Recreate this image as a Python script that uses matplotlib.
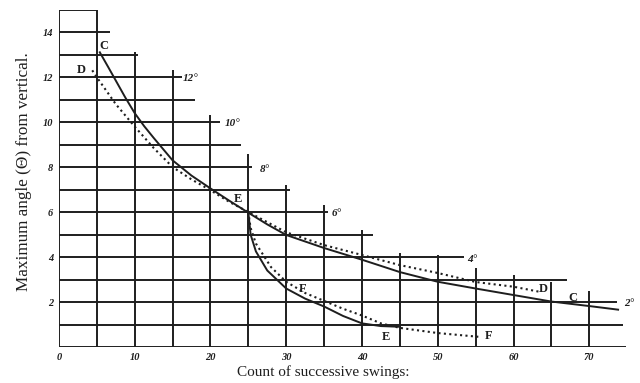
import numpy as np
import matplotlib
matplotlib.use("Agg")
import matplotlib.pyplot as plt

# stair-shaped ruling of the old plate
h_levels = list(range(16))
h_ends = [74.8, 74.5, 73.6, 67.0, 53.5, 41.5, 35.5, 30.5, 25.5, 24.0, 21.3, 18.0, 16.3, 10.5, 6.7, 5.0]
v_pos = list(range(0, 75, 5))
v_tops = [15, 15, 13.1, 12.3, 10.3, 8.6, 7.2, 6.3, 5.2, 4.2, 4.1, 3.5, 3.2, 2.9, 2.5]

# curve C (solid) and D (dotted)
c_x = [5.4, 6.5, 7.5, 8.75, 10, 11.25, 12.5, 15, 17.5, 20, 22.5, 25, 27.5, 30, 35, 40, 45, 50, 55, 60, 65, 70, 73.8]
c_y = [13.1, 12.45, 11.85, 11.1, 10.4, 9.82, 9.3, 8.3, 7.62, 7.05, 6.5, 5.97, 5.45, 4.98, 4.4, 3.88, 3.33, 2.9, 2.6, 2.31, 2.02, 1.82, 1.66]
d_x = [4.4, 5.2, 7.5, 10, 12.5, 15, 17.5, 20, 22.5, 25, 30, 35, 40, 45, 50, 55, 60, 63.5]
d_y = [12.3, 11.9, 10.8, 9.8, 8.85, 8.0, 7.45, 6.97, 6.45, 6.0, 5.1, 4.53, 4.09, 3.64, 3.29, 2.89, 2.68, 2.45]

# curve E (solid) and F (dotted) after the change at swing 25
e_x = [25, 25.3, 26, 27.5, 30, 32.5, 35, 37.5, 40, 42.5, 45]
e_y = [6.0, 5.0, 4.25, 3.4, 2.6, 2.15, 1.8, 1.38, 1.05, 0.93, 0.9]
f_x = [25, 25.3, 26, 28, 30, 32.5, 35, 37.5, 40, 42.5, 45, 50, 55.5]
f_y = [6.0, 5.3, 4.6, 3.55, 2.9, 2.4, 2.05, 1.7, 1.4, 1.05, 0.85, 0.62, 0.45]

letters = ["C", "D", "E", "F", "E", "F", "D", "C"]
letter_x = [5.9, 3.0, 23.6, 32.2, 43.2, 56.7, 63.9, 67.8]
letter_y = [13.4, 12.3, 6.6, 2.6, 0.45, 0.5, 2.6, 2.2]
degrees = ["12°", "10°", "8°", "6°", "4°", "2°"]
deg_x = [17.4, 22.9, 27.2, 36.6, 54.6, 75.3]
deg_y = [11.95, 9.95, 7.9, 5.95, 3.9, 1.95]

ink = "#1e1e1e"
fig = plt.figure(figsize=(6.4, 3.83), dpi=100)
ax = fig.add_axes([0.092, 0.094, 0.888, 0.881])
ax.set_xlim(0, 75)
ax.set_ylim(0, 15)
for s in ax.spines.values():
    s.set_visible(False)

ax.hlines(h_levels, 0, h_ends, color=ink, lw=1.4)
ax.vlines(v_pos, 0, v_tops, color=ink, lw=1.4)

ax.plot(c_x, c_y, color=ink, lw=1.4)
ax.plot(d_x, d_y, color=ink, lw=1.5, ls=(0, (1, 1.6)))
ax.plot(e_x, e_y, color=ink, lw=1.4)
ax.plot(f_x, f_y, color=ink, lw=1.5, ls=(0, (1, 1.6)))

for t, x, y in zip(letters, letter_x, letter_y):
    ax.text(x, y, t, family="Liberation Serif", weight="bold", fontsize=9,
            ha="center", va="center", color=ink)
for t, x, y in zip(degrees, deg_x, deg_y):
    ax.text(x, y, t, family="Liberation Serif", style="italic", weight="bold",
            fontsize=8, ha="center", va="center", color=ink)

ax.set_xticks(range(0, 71, 10))
ax.set_yticks(range(2, 15, 2))
ax.tick_params(length=0, pad=4)
for lab in ax.get_xticklabels() + ax.get_yticklabels():
    lab.set_family("Liberation Serif")
    lab.set_style("italic")
    lab.set_weight("bold")
    lab.set_fontsize(7.5)
    lab.set_color(ink)

ax.set_xlabel("Count of successive swings:", family="Liberation Serif",
              fontsize=11, labelpad=2, color=ink)
ax.xaxis.set_label_coords(0.465, -0.055)
ax.set_ylabel("Maximum angle (Θ) from vertical.", family="Liberation Serif",
              fontsize=12.3, color=ink)
ax.yaxis.set_label_coords(-0.048, 0.52)

fig.savefig("out.png", dpi=100)
